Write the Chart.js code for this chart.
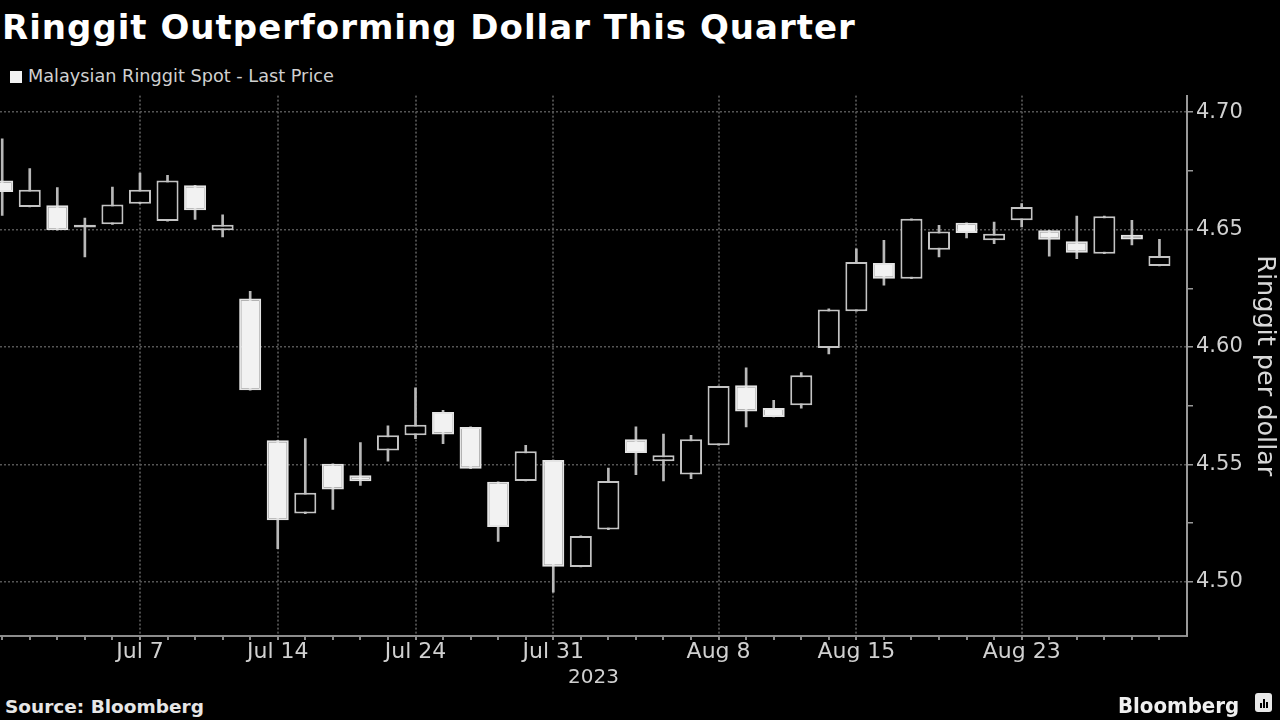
<!DOCTYPE html>
<html><head><meta charset="utf-8">
<script src="https://cdn.jsdelivr.net/npm/chart.js@4"></script>
<style>
html,body{margin:0;padding:0;background:#000;width:1280px;height:720px;overflow:hidden;}
div.t{position:absolute;white-space:nowrap;line-height:1;}
#title{left:2px;top:7px;font:bold 34px "DejaVu Sans",sans-serif;color:#fff;letter-spacing:1px;}
#legend{left:10px;top:66px;font:17.7px "DejaVu Sans",sans-serif;color:#d0d0d0;}
#legend span.sw{display:inline-block;width:12px;height:12px;background:#f2f2f2;margin-right:6px;vertical-align:-1px;}
#source{left:5px;top:696px;font:bold 18.5px "DejaVu Sans",sans-serif;color:#e6e6e6;}
#brand{left:1118px;top:693px;font:bold 22px "DejaVu Sans Condensed",sans-serif;color:#f0f0f0;}
#logo{position:absolute;left:1255px;top:693px;width:17px;height:19px;background:#e8e8e8;border-radius:3px;}
#logo i{position:absolute;bottom:4px;width:2px;background:#000;}
#wrap{position:absolute;left:0;top:80px;width:1280px;height:614px;}
</style></head>
<body>
<div class="t" id="title">Ringgit Outperforming Dollar This Quarter</div>
<div class="t" id="legend"><span class="sw"></span>Malaysian Ringgit Spot - Last Price</div>
<div id="wrap"><canvas id="c"></canvas></div>
<div class="t" id="source">Source: Bloomberg</div>
<div class="t" id="brand">Bloomberg</div>
<div id="logo"><i style="left:5px;height:5px"></i><i style="left:8px;height:9px"></i><i style="left:11px;height:6px"></i></div>
<script>
const dates = ['Jun 30','Jul 3','Jul 4','Jul 5','Jul 6','Jul 7','Jul 10','Jul 11','Jul 12','Jul 13','Jul 14',
  'Jul 17','Jul 18','Jul 20','Jul 21','Jul 24','Jul 25','Jul 26','Jul 27','Jul 28','Jul 31',
  'Aug 1','Aug 2','Aug 3','Aug 4','Aug 7','Aug 8','Aug 9','Aug 10','Aug 11','Aug 14','Aug 15',
  'Aug 16','Aug 17','Aug 18','Aug 21','Aug 22','Aug 23','Aug 24','Aug 25','Aug 28','Aug 29','Aug 30'];
const opens  = [4.6709,4.6596,4.6603,4.6509,4.6522,4.6610,4.6536,4.6688,4.6497,4.6206,4.5603,
  4.5291,4.5503,4.5454,4.5560,4.5624,4.5723,4.5660,4.5426,4.5430,4.5519,
  4.5064,4.5223,4.5607,4.5514,4.5457,4.5582,4.5837,4.5740,4.5752,4.5996,4.6152,
  4.6357,4.6291,4.6414,4.6529,4.6454,4.6539,4.6497,4.6450,4.6397,4.6478,4.6345];
const highs  = [4.6886,4.6759,4.6678,4.6549,4.6681,4.6740,4.6731,4.6688,4.6563,4.6237,4.5603,
  4.5610,4.5503,4.5593,4.5664,4.5826,4.5730,4.5660,4.5426,4.5582,4.5519,
  4.5196,4.5485,4.5660,4.5629,4.5624,4.5834,4.5911,4.5773,4.5891,4.6163,4.6418,
  4.6454,4.6546,4.6518,4.6529,4.6532,4.6610,4.6497,4.6557,4.6557,4.6539,4.6458];
const lows   = [4.6560,4.6596,4.6497,4.6383,4.6522,4.6610,4.6536,4.6543,4.6468,4.5816,4.5142,
  4.5291,4.5309,4.5411,4.5514,4.5610,4.5589,4.5482,4.5173,4.5430,4.4957,
  4.5064,4.5223,4.5457,4.5430,4.5440,4.5582,4.5660,4.5702,4.5740,4.5971,4.6152,
  4.6263,4.6291,4.6383,4.6464,4.6440,4.6511,4.6387,4.6376,4.6397,4.6435,4.6345];
const closes = [4.6660,4.6669,4.6497,4.6520,4.6607,4.6669,4.6709,4.6582,4.6520,4.5816,4.5263,
  4.5380,4.5394,4.5429,4.5624,4.5669,4.5628,4.5482,4.5234,4.5556,4.5065,
  4.5196,4.5430,4.5549,4.5539,4.5607,4.5834,4.5726,4.5702,4.5880,4.6160,4.6362,
  4.6291,4.6546,4.6492,4.6485,4.6482,4.6596,4.6457,4.6401,4.6557,4.6458,4.6387];
const labeledDates = ['Jul 7','Jul 14','Jul 24','Jul 31','Aug 8','Aug 15','Aug 23'];
const yTickValues = [4.50,4.55,4.60,4.65,4.70];
const yearLabel = '2023';

const down = closes.map((c,i)=>c < opens[i]);
const bodyData = dates.map((d,i)=>({x:i, y:[Math.min(opens[i],closes[i]), Math.max(opens[i],closes[i])]}));
const wickData = dates.map((d,i)=>({x:i, y:[lows[i], highs[i]]}));
const isLabeled = v => Number.isInteger(v) && v>=0 && v<dates.length && labeledDates.includes(dates[v]);
const isMajorY = v => yTickValues.some(t=>Math.abs(t-v)<1e-6);

new Chart(document.getElementById('c'), {
  type:'bar',
  data:{datasets:[
    {label:'body', data:bodyData, order:0, grouped:false,
     backgroundColor:down.map(d=>d?'#f2f2f2':'#000000'),
     borderColor:down.map(d=>d?'#e4e4e4':'#c4c4c4'),
     borderWidth:2, borderSkipped:false, barPercentage:0.8, categoryPercentage:1},
    {label:'wick', data:wickData, order:1, grouped:false,
     backgroundColor:'#b8b8b8', borderWidth:0, barThickness:2}
  ]},
  options:{
    responsive:true, maintainAspectRatio:false, animation:false,
    layout:{padding:{top:0,left:0,right:0,bottom:0}},
    plugins:{legend:{display:false}, tooltip:{enabled:false}},
    scales:{
      x:{type:'linear', min:-0.08, max:43, offset:false,
        afterBuildTicks:(ax)=>{ax.ticks = ax.ticks.filter(t=>Number.isInteger(t.value) && t.value>=0 && t.value<dates.length);},
        afterFit:(ax)=>{ax.height = 58;},
        ticks:{stepSize:1, autoSkip:false, maxRotation:0, includeBounds:false, color:'#d0d0d0', padding:-1,
          font:{family:'DejaVu Sans', size:22},
          callback:(v)=> isLabeled(v) ? dates[v] : ''},
        grid:{offset:false, color:(c)=> (c.tick && isLabeled(c.tick.value)) ? '#4a4a4a' : 'rgba(0,0,0,0)',
          lineWidth:2, tickColor:'#8a8a8a', tickLength:4, tickWidth:2, drawTicks:true},
        border:{display:true, color:'#8c8c8c', width:2, dash:[2,2]},
        title:{display:true, text:yearLabel, color:'#d0d0d0', padding:{top:0,bottom:4},
          font:{family:'DejaVu Sans', size:20}}
      },
      y:{type:'linear', position:'right', min:4.477, max:4.707,
        afterBuildTicks:(ax)=>{ax.ticks = ax.ticks.filter(t=>Math.abs(t.value*40-Math.round(t.value*40))<1e-6);},
        afterFit:(ax)=>{ax.width = 93;},
        ticks:{stepSize:0.025, includeBounds:false, color:'#d0d0d0', padding:3,
          font:{family:'DejaVu Sans', size:21},
          callback:(v)=> isMajorY(v) ? v.toFixed(2) : ''},
        grid:{color:(c)=> (c.tick && isMajorY(c.tick.value)) ? '#555555' : 'rgba(0,0,0,0)',
          lineWidth:1.5, tickColor:'#999', tickLength:6, tickWidth:1.5},
        border:{display:true, color:'#999999', width:2, dash:[2,2]},
        title:{display:true, text:'Ringgit per dollar', color:'#d8d8d8', padding:{top:0,bottom:3},
          font:{family:'DejaVu Sans', size:25.5}}
      }
    }
  }
});
</script>
</body></html>
